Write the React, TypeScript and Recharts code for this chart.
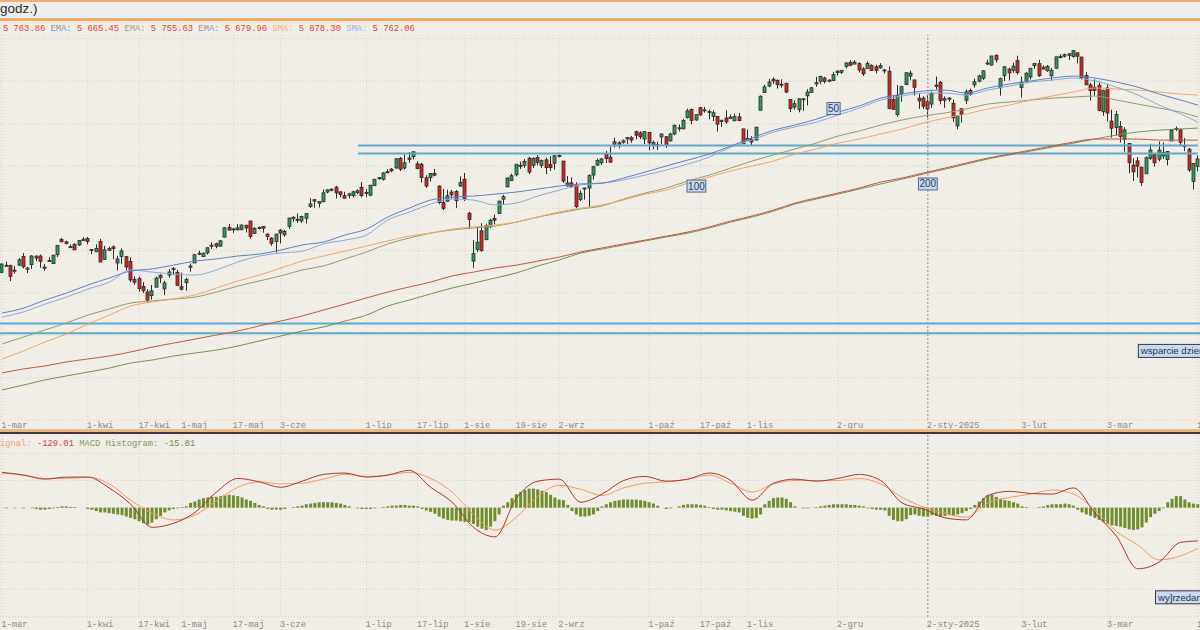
import React from "react";
import {
  Bar,
  CartesianGrid,
  ComposedChart,
  Line,
  ReferenceDot,
  ReferenceLine,
  XAxis,
  YAxis,
} from "recharts";

type Candle = [number, number, number, number, number]; // day, open, high, low, close

const mar24: Candle[] = [
  [1, 5098, 5140, 5094, 5137], [4, 5131, 5149, 5127, 5131], [5, 5130, 5134, 5057, 5079], [6, 5108, 5128, 5092, 5105],
  [7, 5132, 5165, 5128, 5157], [8, 5173, 5189, 5117, 5124], [11, 5112, 5124, 5094, 5118], [12, 5134, 5179, 5114, 5175],
  [13, 5174, 5179, 5151, 5165], [14, 5175, 5182, 5120, 5150], [15, 5123, 5137, 5105, 5117], [18, 5154, 5170, 5147, 5149],
  [19, 5139, 5180, 5138, 5179], [20, 5181, 5226, 5171, 5225], [21, 5253, 5261, 5240, 5242], [22, 5242, 5247, 5229, 5234],
  [25, 5219, 5229, 5216, 5218], [26, 5229, 5236, 5203, 5204], [27, 5227, 5250, 5222, 5248], [28, 5248, 5264, 5246, 5254],
];
const apr24: Candle[] = [
  [1, 5258, 5264, 5230, 5244], [2, 5204, 5208, 5184, 5206], [3, 5195, 5230, 5195, 5211], [4, 5244, 5256, 5146, 5147],
  [5, 5159, 5223, 5157, 5204], [8, 5211, 5219, 5198, 5202], [9, 5218, 5225, 5160, 5210], [10, 5142, 5176, 5107, 5161],
  [11, 5173, 5211, 5138, 5199], [12, 5172, 5175, 5108, 5123], [15, 5149, 5168, 5052, 5062], [16, 5064, 5079, 5039, 5051],
  [17, 5068, 5077, 5007, 5022], [18, 5031, 5051, 5001, 5011], [19, 5005, 5019, 4954, 4967], [22, 4988, 5038, 4969, 5011],
  [23, 5028, 5077, 5028, 5071], [24, 5084, 5089, 5047, 5072], [25, 5020, 5058, 4990, 5048], [26, 5085, 5114, 5073, 5100],
  [29, 5115, 5123, 5085, 5116], [30, 5098, 5110, 5035, 5036],
];
const may24: Candle[] = [
  [1, 5030, 5096, 5013, 5018], [2, 5049, 5073, 5011, 5064], [3, 5122, 5140, 5101, 5128], [6, 5142, 5181, 5142, 5181],
  [7, 5188, 5200, 5179, 5188], [8, 5172, 5192, 5171, 5188], [9, 5190, 5215, 5182, 5214], [10, 5226, 5240, 5208, 5223],
  [13, 5233, 5238, 5211, 5221], [14, 5222, 5250, 5218, 5247], [15, 5264, 5311, 5263, 5308], [16, 5310, 5325, 5296, 5297],
  [17, 5303, 5305, 5284, 5303], [20, 5298, 5325, 5297, 5308], [21, 5299, 5324, 5297, 5321], [22, 5320, 5323, 5286, 5307],
  [23, 5340, 5342, 5257, 5268], [24, 5282, 5311, 5279, 5305], [27, 5305, 5315, 5300, 5310], [28, 5315, 5316, 5285, 5306],
  [29, 5278, 5282, 5250, 5267], [30, 5260, 5263, 5223, 5235], [31, 5244, 5280, 5191, 5278],
];
const jun24: Candle[] = [
  [3, 5297, 5302, 5234, 5283], [4, 5275, 5298, 5266, 5291], [5, 5315, 5354, 5303, 5354], [6, 5358, 5362, 5336, 5353],
  [7, 5343, 5376, 5331, 5347], [10, 5341, 5366, 5331, 5361], [11, 5353, 5376, 5328, 5375], [12, 5409, 5448, 5402, 5421],
  [13, 5441, 5442, 5403, 5434], [14, 5424, 5432, 5404, 5432], [17, 5431, 5489, 5429, 5473], [18, 5477, 5490, 5471, 5487],
  [19, 5487, 5495, 5480, 5490], [20, 5500, 5506, 5446, 5473], [21, 5478, 5479, 5452, 5465], [24, 5460, 5478, 5446, 5448],
  [25, 5461, 5473, 5446, 5469], [26, 5460, 5483, 5451, 5478], [27, 5474, 5490, 5467, 5483], [28, 5499, 5524, 5451, 5460],
];
const jul24: Candle[] = [
  [1, 5471, 5490, 5452, 5475], [2, 5462, 5510, 5457, 5509], [3, 5507, 5539, 5507, 5537], [4, 5540, 5548, 5535, 5545],
  [5, 5537, 5570, 5531, 5567], [8, 5573, 5584, 5565, 5573], [9, 5585, 5590, 5571, 5577], [10, 5591, 5635, 5586, 5634],
  [11, 5636, 5642, 5576, 5585], [12, 5590, 5655, 5583, 5615], [15, 5638, 5666, 5615, 5631], [16, 5644, 5669, 5631, 5667],
  [17, 5610, 5622, 5584, 5588], [18, 5608, 5615, 5522, 5545], [19, 5544, 5556, 5497, 5505], [22, 5545, 5567, 5526, 5564],
  [23, 5565, 5586, 5551, 5556], [24, 5505, 5508, 5419, 5427], [25, 5428, 5491, 5391, 5399], [26, 5434, 5488, 5431, 5459],
  [29, 5477, 5487, 5444, 5464], [30, 5479, 5486, 5402, 5436], [31, 5505, 5551, 5501, 5522],
];
const aug24: Candle[] = [
  [1, 5537, 5567, 5434, 5447], [2, 5377, 5383, 5302, 5347], [5, 5151, 5250, 5119, 5186], [6, 5206, 5312, 5193, 5240],
  [7, 5294, 5330, 5195, 5200], [8, 5252, 5327, 5250, 5319], [9, 5314, 5351, 5307, 5344], [12, 5352, 5371, 5324, 5344],
  [13, 5376, 5436, 5376, 5434], [14, 5443, 5464, 5420, 5455], [15, 5501, 5546, 5501, 5543], [16, 5531, 5564, 5530, 5554],
  [19, 5558, 5608, 5551, 5608], [20, 5603, 5620, 5586, 5597], [21, 5603, 5633, 5591, 5621], [22, 5637, 5643, 5561, 5571],
  [23, 5603, 5641, 5590, 5635], [26, 5640, 5651, 5603, 5617], [27, 5602, 5630, 5590, 5626], [28, 5629, 5639, 5561, 5592],
  [29, 5607, 5647, 5576, 5592], [30, 5613, 5651, 5582, 5648],
];
const sep24: Candle[] = [
  [2, 5650, 5655, 5640, 5645], [3, 5623, 5623, 5521, 5529], [4, 5506, 5552, 5503, 5520], [5, 5520, 5546, 5497, 5503],
  [6, 5507, 5523, 5402, 5408], [9, 5442, 5484, 5434, 5471], [10, 5491, 5497, 5441, 5496], [11, 5496, 5560, 5406, 5554],
  [12, 5557, 5600, 5535, 5596], [13, 5604, 5636, 5600, 5626], [16, 5615, 5637, 5604, 5633], [17, 5655, 5671, 5614, 5635],
  [18, 5641, 5690, 5615, 5618], [19, 5703, 5733, 5687, 5714], [20, 5709, 5716, 5683, 5703], [23, 5712, 5725, 5705, 5719],
  [24, 5728, 5735, 5703, 5733], [25, 5733, 5742, 5709, 5722], [26, 5762, 5767, 5726, 5745], [27, 5756, 5764, 5727, 5738],
  [30, 5727, 5765, 5703, 5762],
];
const oct24: Candle[] = [
  [1, 5758, 5758, 5674, 5709], [2, 5698, 5720, 5678, 5710], [3, 5695, 5715, 5675, 5700], [4, 5737, 5753, 5702, 5751],
  [7, 5738, 5739, 5685, 5696], [8, 5719, 5757, 5714, 5751], [9, 5751, 5796, 5745, 5792], [10, 5778, 5796, 5763, 5780],
  [11, 5775, 5822, 5775, 5815], [14, 5829, 5871, 5824, 5860], [15, 5866, 5871, 5796, 5815], [16, 5817, 5843, 5813, 5842],
  [17, 5875, 5879, 5836, 5841], [18, 5860, 5879, 5851, 5865], [21, 5857, 5866, 5820, 5854], [22, 5833, 5863, 5812, 5851],
  [23, 5834, 5834, 5762, 5797], [24, 5816, 5817, 5784, 5810], [25, 5826, 5863, 5799, 5808], [28, 5831, 5843, 5823, 5824],
  [29, 5813, 5847, 5811, 5833], [30, 5832, 5850, 5811, 5814], [31, 5775, 5775, 5703, 5705],
];
const nov24: Candle[] = [
  [1, 5723, 5772, 5723, 5729], [4, 5725, 5741, 5697, 5713], [5, 5722, 5784, 5722, 5783], [6, 5863, 5933, 5863, 5929],
  [7, 5947, 5983, 5946, 5973], [8, 5977, 6012, 5971, 5996], [11, 6009, 6018, 5987, 6001], [12, 6004, 6008, 5965, 5984],
  [13, 5986, 6009, 5969, 5985], [14, 5990, 5993, 5943, 5949], [15, 5913, 5915, 5854, 5871], [18, 5878, 5909, 5866, 5894],
  [19, 5866, 5919, 5853, 5917], [20, 5917, 5921, 5860, 5917], [21, 5931, 5963, 5886, 5949], [22, 5947, 5973, 5945, 5969],
  [25, 5993, 6021, 5973, 5987], [26, 6000, 6026, 5986, 6022], [27, 6015, 6021, 5989, 5999], [28, 6000, 6010, 5995, 6005],
  [29, 6003, 6044, 6003, 6032],
];
const dec24: Candle[] = [
  [2, 6041, 6053, 6026, 6047], [3, 6042, 6051, 6034, 6050], [4, 6069, 6089, 6061, 6086], [5, 6089, 6099, 6071, 6075],
  [6, 6081, 6099, 6079, 6090], [9, 6083, 6089, 6041, 6053], [10, 6058, 6066, 6024, 6035], [11, 6060, 6093, 6060, 6084],
  [12, 6075, 6079, 6051, 6051], [13, 6068, 6078, 6036, 6051], [16, 6063, 6085, 6059, 6074], [17, 6053, 6058, 6036, 6051],
  [18, 6047, 6070, 5867, 5872], [19, 5913, 5935, 5866, 5867], [20, 5842, 5982, 5832, 5931], [23, 5941, 5978, 5903, 5974],
  [24, 5984, 6041, 5982, 6040], [26, 6024, 6050, 6004, 6038], [27, 6006, 6007, 5933, 5971], [30, 5920, 5941, 5869, 5907],
  [31, 5920, 5929, 5869, 5882],
];
const jan25: Candle[] = [
  [2, 5903, 5935, 5829, 5869], [3, 5892, 5950, 5874, 5942], [6, 5982, 6022, 5961, 5975], [7, 5994, 6001, 5891, 5909],
  [8, 5910, 5928, 5874, 5918], [9, 5920, 5925, 5905, 5915], [10, 5895, 5913, 5808, 5827], [13, 5789, 5838, 5773, 5836],
  [14, 5870, 5871, 5805, 5843], [15, 5910, 5961, 5892, 5950], [16, 5956, 5965, 5931, 5937], [17, 5983, 6012, 5970, 5997],
  [20, 6000, 6030, 5995, 6025], [21, 6014, 6051, 6006, 6049], [22, 6082, 6101, 6076, 6086], [23, 6076, 6119, 6074, 6119],
  [24, 6121, 6128, 6088, 6101], [27, 5969, 6017, 5932, 6012], [28, 6027, 6070, 6001, 6068], [29, 6057, 6063, 6003, 6039],
  [30, 6051, 6087, 6039, 6071], [31, 6097, 6120, 6030, 6041],
];
const feb25: Candle[] = [
  [3, 5970, 6022, 5923, 5995], [4, 5998, 6042, 5991, 6038], [5, 6020, 6062, 6008, 6061], [6, 6073, 6084, 6058, 6084],
  [7, 6083, 6101, 6020, 6026], [10, 6057, 6074, 6055, 6066], [11, 6049, 6076, 6044, 6069], [12, 6026, 6063, 6003, 6052],
  [13, 6061, 6116, 6060, 6115], [14, 6116, 6127, 6108, 6115], [17, 6118, 6130, 6112, 6125], [18, 6121, 6130, 6100, 6130],
  [19, 6117, 6147, 6111, 6144], [20, 6134, 6134, 6084, 6118], [21, 6114, 6115, 6008, 6013], [24, 6027, 6043, 5982, 5983],
  [25, 5982, 5992, 5909, 5955], [26, 5971, 6009, 5932, 5956], [27, 5981, 5994, 5858, 5862], [28, 5856, 5960, 5837, 5955],
];
const mar25: Candle[] = [
  [3, 5968, 5986, 5810, 5850], [4, 5812, 5865, 5733, 5778], [5, 5782, 5860, 5743, 5843], [6, 5787, 5812, 5711, 5739],
  [7, 5726, 5783, 5667, 5770], [10, 5706, 5706, 5565, 5615], [11, 5604, 5636, 5529, 5572], [12, 5624, 5642, 5546, 5599],
  [13, 5594, 5597, 5505, 5522], [14, 5563, 5645, 5563, 5639], [17, 5636, 5704, 5629, 5675], [18, 5655, 5659, 5597, 5615],
  [19, 5632, 5715, 5622, 5675], [20, 5647, 5711, 5633, 5663], [21, 5630, 5670, 5603, 5668], [24, 5718, 5775, 5718, 5768],
  [25, 5776, 5786, 5765, 5777], [26, 5771, 5776, 5694, 5712], [27, 5696, 5732, 5670, 5693], [28, 5679, 5685, 5572, 5581],
  [31, 5527, 5613, 5489, 5612],
];
const apr25: Candle[] = [[1, 5597, 5650, 5574, 5633]];

const months: [string, string, Candle[]][] = [
  ["mar", "24", mar24], ["kwi", "24", apr24], ["maj", "24", may24], ["cze", "24", jun24],
  ["lip", "24", jul24], ["sie", "24", aug24], ["wrz", "24", sep24], ["paź", "24", oct24],
  ["lis", "24", nov24], ["gru", "24", dec24], ["sty", "25", jan25], ["lut", "25", feb25],
  ["mar", "25", mar25], ["kwi", "25", apr25],
];

const maBlueA = [4906, 4929, 4967, 5000, 5038, 5071, 5104, 5114, 5132, 5151, 5161, 5175, 5184, 5203, 5227, 5241, 5274, 5302, 5359, 5401, 5439, 5453, 5458, 5467, 5477, 5491, 5505, 5515, 5519, 5543, 5571, 5600, 5628, 5656, 5694, 5732, 5769, 5793, 5821, 5854, 5883, 5920, 5939, 5954, 5958, 5944, 5968, 5987, 6001, 6015, 6024, 6015, 5996, 5972, 5939, 5911, 5887];
const maBlueB = [4887, 4911, 4948, 4981, 5019, 5052, 5109, 5099, 5090, 5085, 5109, 5147, 5175, 5189, 5198, 5232, 5250, 5274, 5345, 5382, 5420, 5444, 5439, 5416, 5425, 5458, 5486, 5510, 5519, 5534, 5557, 5581, 5609, 5642, 5689, 5722, 5760, 5784, 5807, 5840, 5873, 5911, 5930, 5944, 5944, 5935, 5958, 5977, 5996, 6005, 6015, 6001, 5972, 5935, 5887, 5845, 5807];
const maOrange = [4689, 4727, 4769, 4807, 4854, 4896, 4939, 4958, 4972, 4991, 5024, 5057, 5085, 5118, 5151, 5175, 5198, 5222, 5246, 5269, 5283, 5302, 5312, 5321, 5335, 5359, 5383, 5401, 5416, 5439, 5467, 5486, 5519, 5548, 5576, 5600, 5623, 5656, 5680, 5708, 5727, 5751, 5774, 5803, 5826, 5845, 5869, 5887, 5911, 5930, 5949, 5968, 5963, 5958, 5949, 5939, 5935];
const maOlive = [4760, 4793, 4826, 4859, 4896, 4925, 4953, 4963, 4972, 4981, 5005, 5033, 5057, 5081, 5109, 5128, 5161, 5194, 5232, 5260, 5283, 5298, 5307, 5316, 5335, 5359, 5378, 5397, 5411, 5444, 5472, 5496, 5529, 5557, 5590, 5623, 5652, 5680, 5708, 5741, 5765, 5793, 5817, 5836, 5850, 5869, 5892, 5902, 5911, 5920, 5925, 5930, 5911, 5892, 5873, 5854, 5831];
const maRed = [4623, 4642, 4656, 4675, 4689, 4703, 4722, 4745, 4764, 4783, 4802, 4821, 4845, 4868, 4892, 4920, 4948, 4977, 5005, 5029, 5052, 5081, 5099, 5118, 5132, 5151, 5170, 5194, 5213, 5232, 5250, 5269, 5288, 5312, 5340, 5364, 5392, 5425, 5449, 5472, 5496, 5524, 5543, 5567, 5590, 5614, 5637, 5656, 5675, 5694, 5713, 5727, 5727, 5727, 5722, 5722, 5722];
const maDarkOlive = [4543, 4566, 4590, 4609, 4627, 4646, 4670, 4684, 4703, 4717, 4731, 4750, 4774, 4797, 4821, 4840, 4868, 4896, 4939, 4967, 4996, 5024, 5047, 5071, 5095, 5128, 5156, 5189, 5208, 5227, 5246, 5265, 5283, 5307, 5335, 5359, 5387, 5420, 5444, 5467, 5491, 5515, 5538, 5562, 5585, 5609, 5633, 5652, 5670, 5689, 5708, 5727, 5746, 5760, 5769, 5774, 5779];

// MACD and signal, every 5th session
const macdLine = [52, 48, 42, 45, 45, 29, 5, -29, -23, -7, 23, 43, 38, 30, 39, 49, 51, 45, 48, 55, 30, 8, -29, -43, 14, 39, 42, 8, 20, 40, 46, 39, 42, 51, 40, 11, 36, 42, 39, 43, 49, 40, 7, -2, -15, -18, 18, 24, 21, 20, 29, -8, -42, -90, -80, -51, -49];
const signalLine = [51, 48, 43, 43, 45, 35, 11, -8, -18, -11, 10, 30, 38, 35, 36, 42, 49, 46, 48, 52, 43, 23, -10, -33, -14, 17, 33, 27, 18, 29, 36, 38, 42, 48, 36, 23, 35, 40, 40, 40, 43, 35, 15, 1, -8, -14, 7, 15, 20, 26, 20, -4, -35, -55, -77, -71, -60];

// MACD histogram, one value per session
const histA = [0, -1, 0, -1, 0, -1, 0, -1, -2, -3, -3, -2, -1, 1, 2, 2, 1, 1, 0, 0, -2, -3, -5, -7, -7, -8, -9, -10, -11, -13, -15, -17, -20, -23, -25, -22, -17, -12, -7, -4, -2, -1, 1, 2, 7, 9, 12, 14, 15, 16, 16, 17, 18, 19, 18, 17, 15, 12, 10, 7, 4, 2, -2, -3, -3, -3, -2, 0, 1, 2];
const histB = [3, 5, 6, 7, 8, 8, 8, 8, 7, 6, 4, 2, 0, -1, -2, -2, -2, -1, 0, 1, 2, 3, 3, 4, 4, 3, 3, 2, -2, -4, -6, -9, -13, -16, -18, -19, -19, -20, -21, -21, -24, -28, -31, -33, -28, -20, -10, 3, 8, 14, 20, 23, 26, 28, 28, 27, 25, 23, 19, 15, 12, 11, 4, -5, -10, -13, -13, -12, -10, -5];
const histC = [2, 5, 8, 10, 11, 12, 12, 12, 12, 11, 10, 8, 6, 3, 0, -2, -1, 0, 2, 4, 5, 5, 5, 4, 3, 1, -2, -3, -3, -4, -5, -6, -7, -12, -15, -16, -15, -10, 5, 10, 14, 15, 15, 13, 8, 2, 0, -1, -1, 0, 1, 2, 3, 4, 5, 5, 5, 5, 4, 4, 3, 2, -1, -2, -3, -3, -4, -12, -18, -20];
const histD = [-20, -17, -11, -10, -12, -13, -13, -11, -12, -13, -12, -11, -12, -10, -8, -5, -2, 4, 9, 14, 18, 19, 16, 13, 11, 10, 8, 6, 2, 1, 0, 0, 1, 2, 4, 5, 5, 5, 6, 5, 3, -3, -7, -10, -12, -15, -18, -21, -24, -26, -27, -28, -30, -32, -33, -32, -29, -22, -14, -9, -5, -1, 8, 13, 17, 17, 12, 8, 6, 5];

const resistanceLevels = [5696, 5659];
const supportLevels = [4857, 4810];
const priceGridTicks = [4500, 4600, 4700, 4800, 4900, 5000, 5100, 5200, 5300, 5400, 5500, 5600, 5700, 5800, 5900, 6000, 6100, 6200];
const macdGridTicks = [-160, -120, -80, -40, 0, 40, 80];

const xTicks = [
  { key: "1-mar-24", label: "1-mar" }, { key: "1-kwi-24", label: "1-kwi" }, { key: "17-kwi-24", label: "17-kwi" },
  { key: "1-maj-24", label: "1-maj" }, { key: "17-maj-24", label: "17-maj" }, { key: "3-cze-24", label: "3-cze" },
  { key: "1-lip-24", label: "1-lip" }, { key: "17-lip-24", label: "17-lip" }, { key: "1-sie-24", label: "1-sie" },
  { key: "19-sie-24", label: "19-sie" }, { key: "2-wrz-24", label: "2-wrz" }, { key: "1-paź-24", label: "1-paź" },
  { key: "17-paź-24", label: "17-paź" }, { key: "1-lis-24", label: "1-lis" }, { key: "2-gru-24", label: "2-gru" },
  { key: "2-sty-25", label: "2-sty-2025" }, { key: "3-lut-25", label: "3-lut" }, { key: "3-mar-25", label: "3-mar" },
  { key: "1-kwi-25", label: "1-kwi" },
];

const maNotes = [
  { key: "29-lis-24", value: 5871, text: "50" },
  { key: "16-paź-24", value: 5505, text: "100" },
  { key: "2-sty-25", value: 5515, text: "200" },
];

const rows: any[] = [];
months.forEach(([mon, yy, list]) =>
  list.forEach(([day, open, high, low, close]) =>
    rows.push({ key: `${day}-${mon}-${yy}`, open, high, low, close })
  )
);
const histogram = [...histA, ...histB, ...histC, ...histD];
const lastIdx = rows.length - 1;
const sampled = (arr: number[], i: number) =>
  i % 5 === 0 ? arr[i / 5] : i === lastIdx ? arr[arr.length - 1] : null;
rows.forEach((r, i) => {
  r.blueA = sampled(maBlueA, i);
  r.blueB = sampled(maBlueB, i);
  r.orange = sampled(maOrange, i);
  r.olive = sampled(maOlive, i);
  r.red = sampled(maRed, i);
  r.darkOlive = sampled(maDarkOlive, i);
  r.macd = sampled(macdLine, i);
  r.signal = sampled(signalLine, i);
  r.hist = histogram[i];
});

const tickKeys = xTicks.map((t) => t.key);
const tickLabel: Record<string, string> = {};
xTicks.forEach((t) => (tickLabel[t.key] = t.label));

const MONO = "'Liberation Mono', monospace";
const SANS = "'Liberation Sans', Arial, sans-serif";
const BG = "#f0eee6";
const LAST_KEY = rows[lastIdx].key;
const START_RES = "27-cze-24";

function Candlestick(props: any) {
  const { x, y, width, height, payload } = props;
  if (!payload) return null;
  const { open, high, low, close } = payload;
  const top = Math.min(y, y + height);
  const h = Math.abs(height);
  const span = high - low || 1;
  const toY = (v: number) => top + ((high - v) / span) * h;
  const cx = Math.floor(x + width / 2);
  const up = close >= open;
  const bTop = toY(Math.max(open, close));
  const bBot = toY(Math.min(open, close));
  return (
    <g>
      <line x1={cx + 0.5} x2={cx + 0.5} y1={top} y2={top + h} stroke="#2a2a2a" strokeWidth={1} />
      <rect
        x={cx - 1}
        y={bTop}
        width={3}
        height={Math.max(bBot - bTop, 1)}
        fill={up ? "#2f9a5b" : "#d8261e"}
        stroke="#2a2a2a"
        strokeWidth={0.8}
      />
    </g>
  );
}

function DateTick(props: any) {
  const { x, y, payload, dy } = props;
  return (
    <text x={x - 1} y={y + (dy ?? 8)} fill="#8a8a88" fontSize={8.8} fontFamily={MONO} textAnchor="start">
      {tickLabel[payload.value]}
    </text>
  );
}

function NoteBox(props: any) {
  const { cx, cy, text } = props;
  const w = text.length * 5.6 + 2;
  return (
    <g>
      <rect x={cx - w / 2} y={cy - 6} width={w} height={12} fill="#c7d9ef" stroke="#56688c" strokeWidth={1} />
      <text x={cx} y={cy + 3.5} fontSize={10} fontFamily={SANS} fill="#2c3b5e" textAnchor="middle">
        {text}
      </text>
    </g>
  );
}

function WideNote(props: any) {
  const { cx, cy, text } = props;
  return (
    <g>
      <rect x={cx + 0.5} y={cy - 6.5} width={90} height={13} fill="#c9dbf2" stroke="#3a3a44" strokeWidth={1} />
      <text x={cx + 3} y={cy + 3.5} fontSize={9.6} fontFamily={SANS} fill="#27324f">
        {text}
      </text>
    </g>
  );
}

const legendParts: [string, string][] = [
  ["5 763.86", "#e0443c"], [" EMA:", "#6f91cf"], [" 5 665.45", "#e0443c"], [" EMA:", "#a0a27a"],
  [" 5 755.63", "#e0443c"], [" EMA:", "#8f93b5"], [" 5 679.96", "#e0443c"], [" SMA:", "#f3b27c"],
  [" 5 878.30", "#e0443c"], [" SMA:", "#93b5de"], [" 5 762.06", "#e0443c"],
];
const macdLegendParts: [string, string][] = [
  ["ignal:", "#f2a66a"], [" -129.01", "#e03a30"], [" MACD Histogram:", "#7e9a52"], [" -15.81", "#6c8a3c"],
];

export default function App() {
  return (
    <div
      style={{
        position: "absolute",
        left: 0,
        top: 0,
        width: 1200,
        height: 630,
        overflow: "hidden",
        background: BG,
      }}
    >
      {/* header */}
      <div style={{ position: "absolute", left: 0, top: 0, width: 1200, height: 2, background: "#f5b06c" }} />
      <div style={{ position: "absolute", left: 0, top: 2, width: 1200, height: 16, background: "#eceef1" }} />
      <div style={{ position: "absolute", left: 0, top: 1, fontFamily: SANS, fontSize: 13.5, lineHeight: "16px", color: "#2a2a2a" }}>
        godz.)
      </div>
      <div style={{ position: "absolute", left: 0, top: 18, width: 1200, height: 3, background: "#f3ad68" }} />
      <div style={{ position: "absolute", left: 3, top: 23.5, fontFamily: MONO, fontSize: 8.8, lineHeight: "10px", whiteSpace: "pre" }}>
        {legendParts.map(([t, c], i) => (
          <span key={i} style={{ color: c }}>{t}</span>
        ))}
      </div>

      {/* price panel */}
      <div style={{ position: "absolute", left: 0, top: 35 }}>
        <ComposedChart width={1200} height={395} data={rows} margin={{ top: 0, right: 0, bottom: 0, left: 0 }} barCategoryGap="10%">
          <CartesianGrid stroke="#d6d3c8" strokeDasharray="1 2" />
          <XAxis
            dataKey="key"
            ticks={tickKeys}
            interval={0}
            height={10}
            tickLine={false}
            axisLine={false}
            tickSize={0}
            tickMargin={0}
            tick={(p: any) => <DateTick {...p} dy={8} />}
          />
          <YAxis hide domain={[4401, 6218]} ticks={priceGridTicks} allowDataOverflow />
          <ReferenceLine x="2-sty-25" stroke="#8e8e8e" strokeDasharray="2 2" />
          {supportLevels.map((v) => (
            <ReferenceLine key={v} y={v} stroke="#5aaaca" strokeWidth={2} />
          ))}
          {resistanceLevels.map((v) => (
            <ReferenceLine
              key={v}
              segment={[{ x: START_RES, y: v }, { x: LAST_KEY, y: v }]}
              stroke="#5aaaca"
              strokeWidth={2}
            />
          ))}
          <Line dataKey="darkOlive" stroke="#7d8c4c" strokeWidth={1} dot={false} connectNulls type="monotone" isAnimationActive={false} />
          <Line dataKey="red" stroke="#c65442" strokeWidth={1} dot={false} connectNulls type="monotone" isAnimationActive={false} />
          <Line dataKey="olive" stroke="#8f9f66" strokeWidth={1} dot={false} connectNulls type="monotone" isAnimationActive={false} />
          <Line dataKey="orange" stroke="#f1a463" strokeWidth={1} dot={false} connectNulls type="monotone" isAnimationActive={false} />
          <Line dataKey="blueB" stroke="#86a9da" strokeWidth={1} dot={false} connectNulls type="monotone" isAnimationActive={false} />
          <Line dataKey="blueA" stroke="#5b80c4" strokeWidth={1} dot={false} connectNulls type="monotone" isAnimationActive={false} />
          <Bar dataKey={(d: any) => [d.low, d.high]} shape={<Candlestick />} isAnimationActive={false} />
          {maNotes.map((n) => (
            <ReferenceDot key={n.text} x={n.key} y={n.value} r={1} shape={(p: any) => <NoteBox {...p} text={n.text} />} />
          ))}
          <ReferenceDot x="12-mar-25" y={4727} r={1} shape={(p: any) => <WideNote {...p} text="wsparcie dzienne" />} />
        </ComposedChart>
      </div>

      {/* separator */}
      <div style={{ position: "absolute", left: 0, top: 429, width: 1200, height: 2.5, background: "#f2b57c" }} />
      <div style={{ position: "absolute", left: 0, top: 431.5, width: 1200, height: 2.5, background: "#343b47" }} />

      {/* MACD panel */}
      <div style={{ position: "absolute", left: 0, top: 435 }}>
        <ComposedChart width={1200} height={195} data={rows} margin={{ top: 0, right: 0, bottom: 0, left: 0 }} barCategoryGap="12%">
          <CartesianGrid stroke="#d6d3c8" strokeDasharray="1 2" />
          <XAxis
            dataKey="key"
            ticks={tickKeys}
            interval={0}
            height={13}
            tickLine={false}
            axisLine={false}
            tickSize={0}
            tickMargin={0}
            tick={(p: any) => <DateTick {...p} dy={9.5} />}
          />
          <YAxis hide domain={[-161, 107]} ticks={macdGridTicks} allowDataOverflow />
          <ReferenceLine x="2-sty-25" stroke="#8e8e8e" strokeDasharray="2 2" />
          <Bar dataKey="hist" fill="#6f8d2c" isAnimationActive={false} />
          <Line dataKey="signal" stroke="#f39c5e" strokeWidth={1} dot={false} connectNulls type="monotone" isAnimationActive={false} />
          <Line dataKey="macd" stroke="#a8372f" strokeWidth={1} dot={false} connectNulls type="monotone" isAnimationActive={false} />
          <ReferenceDot x="18-mar-25" y={-132} r={1} shape={(p: any) => <WideNote {...p} text="wy]rzedanie" />} />
        </ComposedChart>
      </div>
      <div style={{ position: "absolute", left: 0, top: 438.5, fontFamily: MONO, fontSize: 8.8, lineHeight: "10px", whiteSpace: "pre" }}>
        {macdLegendParts.map(([t, c], i) => (
          <span key={i} style={{ color: c }}>{t}</span>
        ))}
      </div>
    </div>
  );
}
